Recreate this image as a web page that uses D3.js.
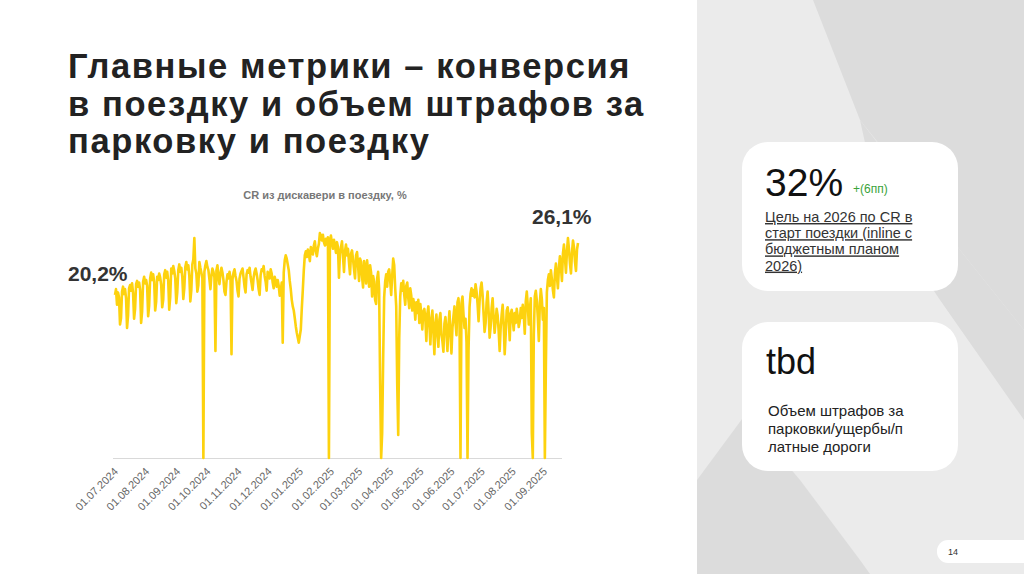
<!DOCTYPE html>
<html>
<head>
<meta charset="utf-8">
<script src="https://cdn.jsdelivr.net/npm/d3@7"></script>
<style>
body { margin: 0; background: #fff; }
svg { display: block; font-family: "Liberation Sans", Arial, sans-serif; }
</style>
</head>
<body>
<svg id="slide" width="1024" height="574"></svg>
<script>
// daily CR values, %, from 01.07.2024 (one row per week)
var crValues = [
  19.8,20.5,18.6,20.1,19.5,16.2,17.0,
  20.2,20.8,19.9,20.5,19.4,15.8,17.3,
  20.6,21.0,20.3,21.2,20.0,16.9,18.1,
  21.1,21.5,20.8,21.3,20.4,16.4,17.8,
  21.4,22.0,21.2,21.6,20.9,17.2,18.5,
  21.8,22.5,21.6,22.3,21.4,17.9,19.0,
  22.0,21.6,22.4,21.9,21.0,18.3,19.2,
  22.3,22.8,21.9,22.6,21.5,18.0,19.6,
  23.0,22.4,23.3,22.7,21.8,18.8,20.1,
  22.8,23.5,22.6,23.1,22.0,19.3,20.6,
  23.2,23.8,22.9,23.4,22.1,19.0,20.4,
  23.5,24.1,26.7,23.0,22.4,20.2,21.0,
  23.8,23.1,22.5,21.8,0.0,22.6,23.4,
  23.9,23.2,22.8,21.7,20.5,22.1,23.0,
  22.6,21.9,13.0,22.8,23.4,22.0,21.1,
  22.4,23.1,22.5,21.6,20.2,19.8,21.4,
  22.3,21.8,22.6,21.9,12.6,21.7,22.5,
  22.9,22.1,21.5,20.3,19.6,21.8,22.4,
  22.7,23.0,21.9,20.8,20.1,22.3,22.8,
  22.5,23.1,22.0,21.2,20.4,21.9,22.6,
  23.0,22.4,21.6,20.5,19.8,22.2,22.9,
  22.7,23.3,22.1,21.4,20.3,22.6,22.1,
  21.8,22.9,22.4,21.3,20.6,22.0,21.5,
  20.8,21.6,20.9,19.7,20.2,21.3,14.0,
  22.5,24.0,24.6,24.2,23.5,22.8,21.5,
  20.5,19.2,18.4,17.9,17.0,16.0,15.2,
  14.6,14.0,14.8,15.6,18.2,20.4,22.8,
  24.6,25.1,24.4,25.3,24.8,23.9,25.6,
  25.2,24.7,25.8,26.3,25.1,24.5,25.4,
  26.0,27.3,27.0,26.4,27.1,26.2,25.8,
  26.6,25.9,26.8,0.0,26.3,27.0,26.1,
  25.4,26.5,25.8,24.9,26.2,25.6,21.9,
  24.8,25.6,26.3,24.5,22.6,25.1,25.9,
  24.6,25.4,23.7,22.3,24.8,25.2,24.1,
  22.9,21.8,24.6,25.0,23.4,21.5,24.2,
  23.8,22.0,20.7,23.9,23.1,21.2,24.0,
  22.6,20.8,23.4,22.5,19.6,22.1,21.4,
  19.2,18.7,21.8,22.6,20.5,9.0,0.0,
  3.0,12.0,19.5,21.4,22.3,20.8,22.6,
  22.9,21.5,19.8,22.1,24.2,23.4,20.6,
  18.4,9.0,2.8,14.5,19.6,21.2,20.3,
  21.5,19.8,18.6,20.9,21.3,19.4,18.2,
  20.6,19.7,17.9,19.3,18.5,16.8,18.9,
  17.6,19.2,16.4,18.7,17.5,15.6,17.8,
  18.1,16.9,14.2,17.5,18.4,16.3,13.8,
  16.7,17.9,15.5,12.6,16.2,17.4,15.1,
  13.5,16.8,17.6,15.0,14.2,12.9,16.3,
  17.1,15.4,13.0,16.0,17.8,15.2,12.7,
  15.8,17.2,18.4,16.5,14.9,18.9,19.4,
  17.0,0.0,18.8,19.6,17.4,15.8,16.9,
  14.0,0.0,13.0,18.3,19.9,20.6,19.7,
  20.4,19.5,21.1,20.2,18.7,16.6,19.0,
  20.6,21.3,19.8,17.5,15.3,16.4,18.9,
  20.2,17.8,14.6,15.9,18.2,19.4,17.0,
  15.2,16.6,18.1,17.3,15.4,13.0,15.8,
  17.4,18.6,16.2,12.6,15.0,17.9,18.3,
  16.9,14.3,17.5,18.0,16.8,15.5,17.6,
  16.4,18.1,17.2,15.9,16.6,18.2,17.0,
  18.6,17.4,15.1,19.0,20.2,18.5,16.2,
  17.9,19.4,3.0,0.0,15.0,19.6,20.3,
  19.1,17.0,14.2,18.8,20.5,19.3,16.8,
  18.2,0.0,11.0,20.1,21.6,22.3,20.9,
  22.8,21.7,20.4,19.5,22.4,23.6,22.0,
  20.6,23.1,24.5,23.2,21.5,24.8,25.9,
  24.3,22.5,25.1,26.7,25.4,23.6,22.4,
  24.9,26.4,25.6,23.8,22.7,25.3,26.1
];
var startDate = new Date(2024, 6, 1);
var tickDates = d3.timeMonth.range(new Date(2024, 6, 1), new Date(2025, 9, 1));
var titleLines = ["Главные метрики – конверсия", "в поездку и объем штрафов за", "парковку и поездку"];
var card1Lines = ["Цель на 2026 по CR в", "старт поездки (inline с", "бюджетным планом", "2026)"];
var card2Lines = ["Объем штрафов за", "парковки/ущербы/п", "латные дороги"];

var svg = d3.select("#slide");

// right panel background
svg.append("rect").attr("x", 697).attr("y", 0).attr("width", 327).attr("height", 574).attr("fill", "#ebebeb");
var shapes = [
  [[813,0],[1024,0],[1024,330],[960,250],[900,170],[860,120]],
  [[860,120],[960,250],[1024,330],[1024,420],[940,300],[880,210]],
  [[697,480],[745,415],[800,480],[860,560],[870,574],[697,574]]
];
svg.selectAll("polygon.bg").data(shapes).enter().append("polygon")
  .attr("points", function(d){ return d.join(" "); })
  .attr("fill", "#dcdcdc");

// title
svg.selectAll("text.title").data(titleLines).enter().append("text")
  .attr("x", 68).attr("y", function(d, i){ return 78 + i * 37.5; })
  .attr("font-size", 34.5).attr("font-weight", "bold").attr("fill", "#222")
  .attr("letter-spacing", 1.6)
  .text(function(d){ return d; });

// chart
var parseDay = function(i){ return d3.timeDay.offset(startDate, i); };
var x = d3.scaleTime().domain([startDate, parseDay(crValues.length - 1)]).range([115, 578]);
var y = d3.scaleLinear().domain([0, 26.1]).range([458, 243]);

svg.append("text").attr("x", 325).attr("y", 199).attr("text-anchor", "middle")
  .attr("font-size", 11).attr("font-weight", "bold").attr("fill", "#777")
  .text("CR из дискавери в поездку, %");

svg.append("line").attr("x1", 113).attr("x2", 562).attr("y1", 458.5).attr("y2", 458.5)
  .attr("stroke", "#d9d9d9").attr("stroke-width", 1);

var xAxis = svg.append("g").attr("transform", "translate(0,462)")
  .call(d3.axisBottom(x).tickValues(tickDates).tickFormat(d3.timeFormat("%d.%m.%Y")).tickSize(0));
xAxis.select(".domain").remove();
xAxis.selectAll("text")
  .attr("font-family", "Liberation Sans, Arial, sans-serif").attr("font-size", 11).attr("fill", "#666")
  .attr("text-anchor", "end").attr("dy", 0)
  .attr("transform", "translate(2,6) rotate(-45)")
  .attr("x", -2).attr("y", 4);

var line = d3.line().x(function(d, i){ return x(parseDay(i)); }).y(function(d){ return y(d); });
svg.append("path").datum(crValues).attr("d", line)
  .attr("fill", "none").attr("stroke", "#fdd20e").attr("stroke-width", 2.6).attr("stroke-linejoin", "round");

svg.append("text").attr("x", 68).attr("y", 281).attr("font-size", 21).attr("fill", "#333").attr("font-weight", 600).text("20,2%");
svg.append("text").attr("x", 532).attr("y", 224).attr("font-size", 21).attr("fill", "#333").attr("font-weight", 600).text("26,1%");

// cards
function card(y0) {
  svg.append("rect").attr("x", 742).attr("y", y0).attr("width", 216).attr("height", 149)
    .attr("rx", 26).attr("fill", "#fff");
}
card(142);
card(322);
svg.append("text").attr("x", 765).attr("y", 196).attr("font-size", 39).attr("fill", "#111").text("32%");
svg.append("text").attr("x", 853).attr("y", 193).attr("font-size", 12).attr("fill", "#3aa33a").text("+(6пп)");
svg.selectAll("text.c1").data(card1Lines).enter().append("text")
  .attr("x", 765).attr("y", function(d, i){ return 222 + i * 16.2; })
  .attr("font-size", 14.5).attr("fill", "#333").attr("text-decoration", "underline")
  .text(function(d){ return d; });
svg.append("text").attr("x", 766).attr("y", 374).attr("font-size", 36).attr("fill", "#111").text("tbd");
svg.selectAll("text.c2").data(card2Lines).enter().append("text")
  .attr("x", 768).attr("y", function(d, i){ return 416 + i * 18; })
  .attr("font-size", 15).attr("fill", "#222")
  .text(function(d){ return d; });

// page number
svg.append("rect").attr("x", 937).attr("y", 540).attr("width", 100).attr("height", 23).attr("rx", 11).attr("fill", "#fff");
svg.append("text").attr("x", 948).attr("y", 555).attr("font-size", 9).attr("fill", "#333").text("14");
</script>
</body>
</html>
